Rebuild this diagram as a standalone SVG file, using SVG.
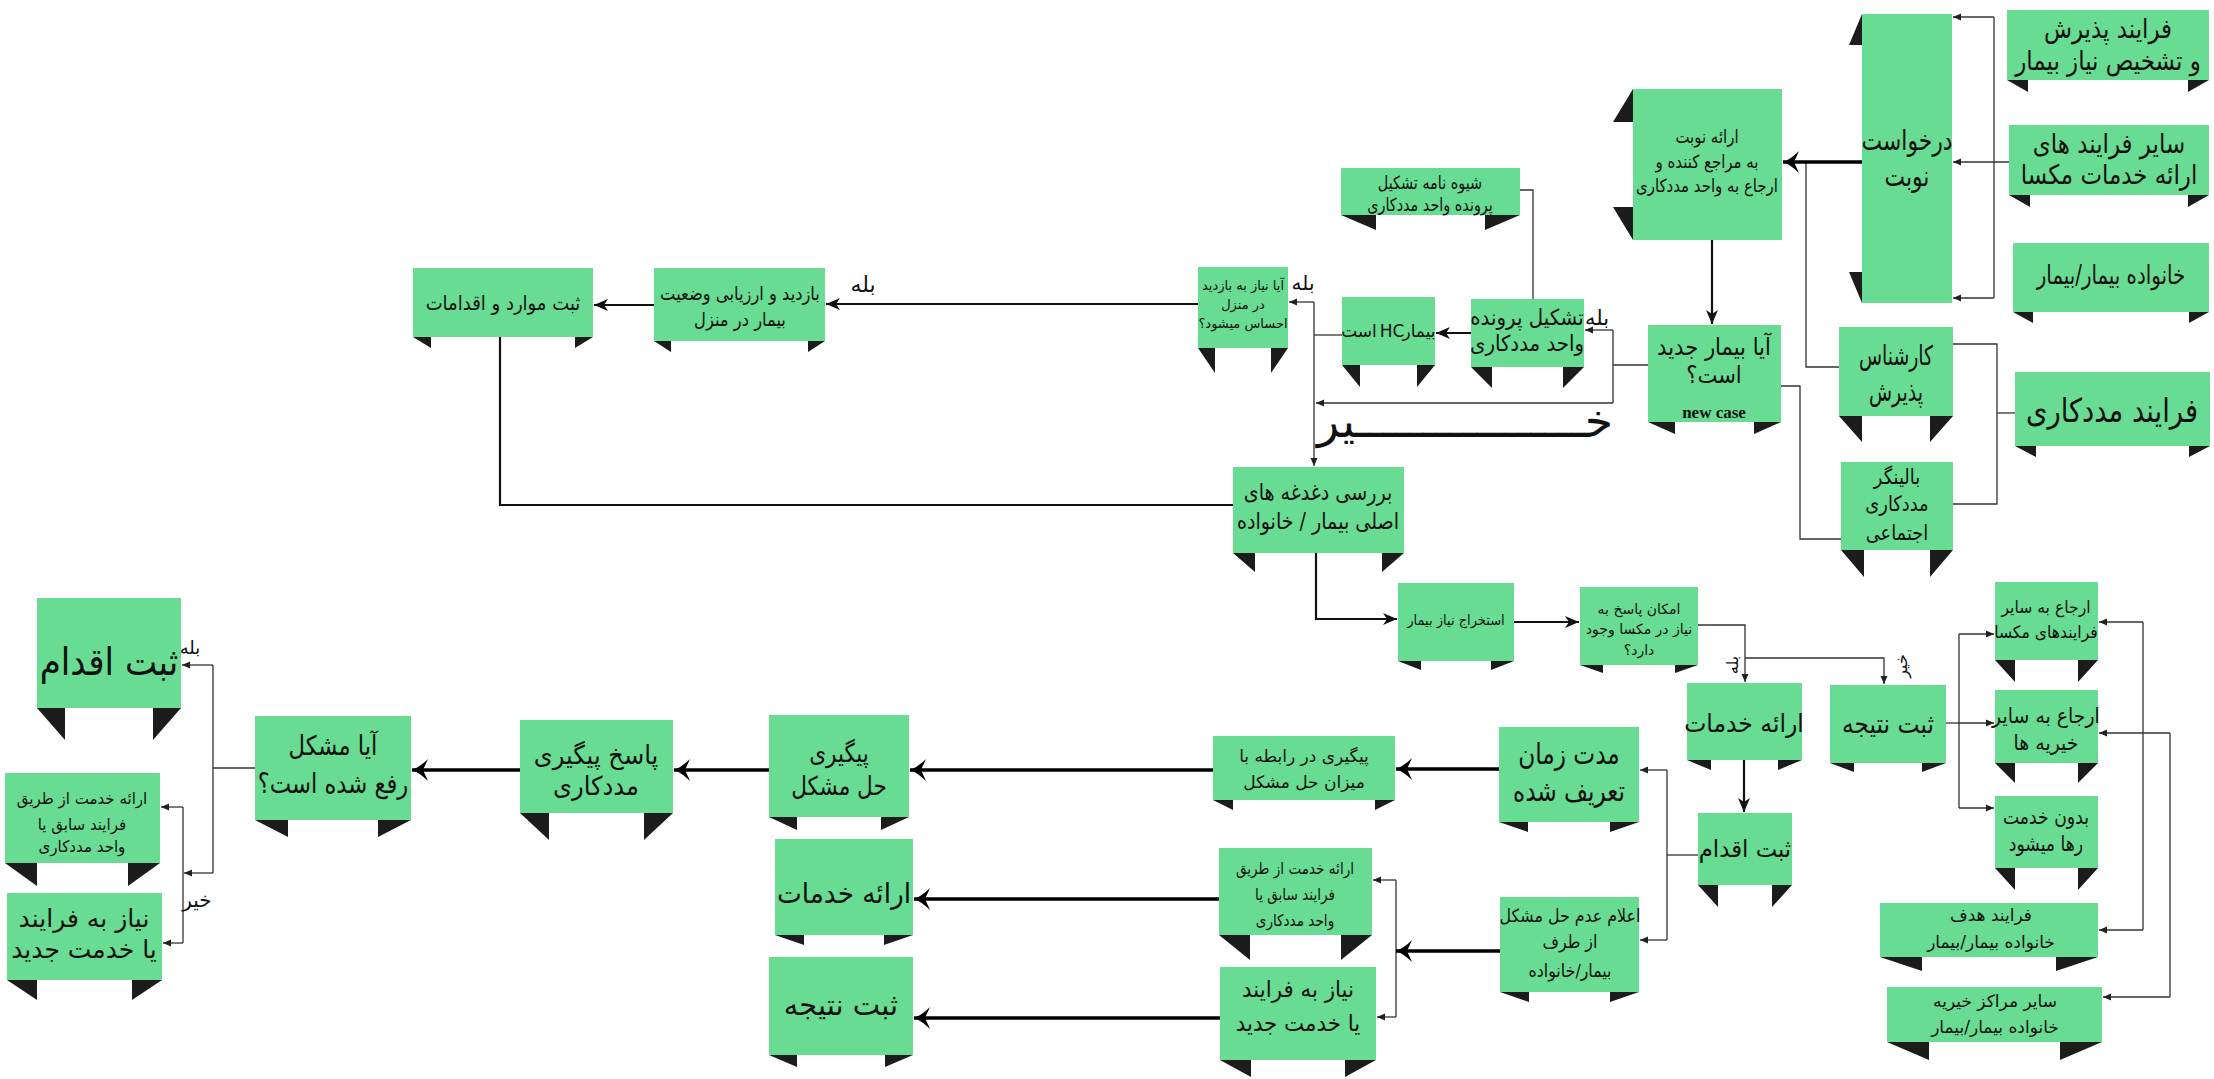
<svg xmlns="http://www.w3.org/2000/svg" width="2214" height="1079" viewBox="0 0 2214 1079">
<style>
.bx{fill:#68dc92}
.tb{fill:#1c1c1c}
.tx{font-family:'DejaVu Sans',sans-serif;fill:#111;text-anchor:middle}
.en{font-family:'Liberation Serif',serif;font-weight:bold;fill:#111;text-anchor:middle}
.l1{fill:none;stroke:#333;stroke-width:1.3}
.l2{fill:none;stroke:#111;stroke-width:2.2}
.l3{fill:none;stroke:#000;stroke-width:3.6}
</style>
<defs>
<marker id="as" viewBox="0 0 8 8" refX="8" refY="4" markerWidth="8" markerHeight="8" markerUnits="userSpaceOnUse" orient="auto"><path d="M0,0.5 L8,4 L0,7.5 z" fill="#222"/></marker>
<marker id="am" viewBox="0 0 14 12" refX="14" refY="6" markerWidth="14" markerHeight="12" markerUnits="userSpaceOnUse" orient="auto"><path d="M0,0 L14,6 L0,12 L4,6 z" fill="#111"/></marker>
<marker id="al" viewBox="0 0 16 22" refX="16" refY="11" markerWidth="16" markerHeight="22" markerUnits="userSpaceOnUse" orient="auto"><path d="M0,0 Q8,8 16,11 Q8,14 0,22 L5,11 z" fill="#000"/></marker>
</defs>
<rect width="2214" height="1079" fill="#fff"/>

<g id="connectors">
<path class="l1" d="M1994,17 V298"/>
<path class="l1" d="M1994,17 H1953" marker-end="url(#as)"/>
<path class="l1" d="M1994,298 H1953" marker-end="url(#as)"/>
<path class="l1" d="M2009,162 H1953" marker-end="url(#as)"/>
<path class="l1" d="M1806,162 V367 H1839"/>
<path class="l1" d="M1781,386 H1800 V539 H1841"/>
<path class="l1" d="M1953,344 H1997 V504 H1953"/>
<path class="l1" d="M2015,413 H1997"/>
<path class="l1" d="M1648,365 H1613"/>
<path class="l1" d="M1613,330 V403"/>
<path class="l1" d="M1613,330 H1585" marker-end="url(#as)"/>
<path class="l1" d="M1613,403 H1316" marker-end="url(#as)"/>
<path class="l1" d="M1520,190 H1533 V299"/>
<path class="l1" d="M1342,335 H1314"/>
<path class="l1" d="M1314,302 V466" marker-end="url(#as)"/>
<path class="l1" d="M1314,302 H1289" marker-end="url(#as)"/>
<path class="l1" d="M1698,625 H1745 V682" marker-end="url(#as)"/>
<path class="l1" d="M1745,658 H1884 V684" marker-end="url(#as)"/>
<path class="l1" d="M1698,855 H1667"/>
<path class="l1" d="M1667,770 V940"/>
<path class="l1" d="M1667,770 H1640" marker-end="url(#as)"/>
<path class="l1" d="M1667,940 H1640" marker-end="url(#as)"/>
<path class="l1" d="M1396,880 V1017"/>
<path class="l1" d="M1396,880 H1373" marker-end="url(#as)"/>
<path class="l1" d="M1396,1017 H1377" marker-end="url(#as)"/>
<path class="l1" d="M255,768 H213"/>
<path class="l1" d="M213,665 V873"/>
<path class="l1" d="M213,665 H182" marker-end="url(#as)"/>
<path class="l1" d="M213,873 H184" marker-end="url(#as)"/>
<path class="l1" d="M183,807 V943"/>
<path class="l1" d="M183,807 H161" marker-end="url(#as)"/>
<path class="l1" d="M183,943 H163" marker-end="url(#as)"/>
<path class="l1" d="M1946,723 H1959"/>
<path class="l1" d="M1959,634 V808"/>
<path class="l1" d="M1959,634 H1994" marker-end="url(#as)"/>
<path class="l1" d="M1959,723 H1994" marker-end="url(#as)"/>
<path class="l1" d="M1959,808 H1994" marker-end="url(#as)"/>
<path class="l1" d="M2143,622 V930"/>
<path class="l1" d="M2143,622 H2099" marker-end="url(#as)"/>
<path class="l1" d="M2143,930 H2099" marker-end="url(#as)"/>
<path class="l1" d="M2170,733 V997"/>
<path class="l1" d="M2170,733 H2099" marker-end="url(#as)"/>
<path class="l1" d="M2170,997 H2103" marker-end="url(#as)"/>

<path class="l2" d="M1471,333 H1436" marker-end="url(#am)"/>
<path class="l2" d="M1198,304 H826" marker-end="url(#am)"/>
<path class="l2" d="M654,305 H594" marker-end="url(#am)"/>
<path class="l2" d="M500,337 V505 H1233"/>
<path class="l2" d="M1316,553 V619 H1397" marker-end="url(#am)"/>
<path class="l2" d="M1514,622 H1579" marker-end="url(#am)"/>
<path class="l2" d="M1744,760 V812" marker-end="url(#am)"/>
<path class="l2" d="M1712,240 V324" marker-end="url(#am)"/>

<path class="l3" d="M1862,162 H1783" marker-end="url(#al)"/>
<path class="l3" d="M1499,769 H1396" marker-end="url(#al)"/>
<path class="l3" d="M1500,951 H1396" marker-end="url(#al)"/>
<path class="l3" d="M1213,770 H910" marker-end="url(#al)"/>
<path class="l3" d="M1219,899 H914" marker-end="url(#al)"/>
<path class="l3" d="M1220,1018 H914" marker-end="url(#al)"/>
<path class="l3" d="M769,770 H674" marker-end="url(#al)"/>
<path class="l3" d="M520,770 H412" marker-end="url(#al)"/>
</g>

<g id="labels" class="tx">
<text x="863" y="292" font-size="22">بله</text>
<text x="1303" y="290" font-size="20">بله</text>
<text x="1597" y="325" font-size="21">بله</text>
<text x="1465" y="437" font-size="46" textLength="296" lengthAdjust="spacingAndGlyphs">خـــــــــــــــــیر</text>
<text transform="translate(1738,665) rotate(-90)" font-size="16">بله</text>
<text transform="translate(1907,666) rotate(-90)" font-size="16">خیر</text>
<text x="190" y="654" font-size="18">بله</text>
<text x="197" y="907" font-size="20">خیر</text>
</g>

<g id="n-paziresh"><rect class="bx" x="2007" y="10" width="202" height="70"/><path class="tb" d="M2007,80h21v12z M2188,80h21l-21,12z"/><text class="tx" font-size="27" transform="matrix(0.85 0 0 1 316.2 0)"><tspan x="2108" y="38">فرایند پذیرش</tspan><tspan x="2108" y="70">و تشخیص نیاز بیمار</tspan></text></g>
<g id="n-sayer-farayand"><rect class="bx" x="2009" y="125" width="200" height="70"/><path class="tb" d="M2009,195h21v12z M2188,195h21l-21,12z"/><text class="tx" font-size="27" transform="matrix(0.85 0 0 1 316.35 0)"><tspan x="2109" y="153">سایر فرایند های</tspan><tspan x="2109" y="184">ارائه خدمات مکسا</tspan></text></g>
<g id="n-khanevade"><rect class="bx" x="2013" y="243" width="196" height="69"/><path class="tb" d="M2013,312h20v11z M2189,312h20l-20,11z"/><text class="tx" font-size="26" x="2111" y="284" transform="matrix(0.76 0 0 1 506.64 0)">خانواده بیمار/بیمار</text></g>
<g id="n-farayand-madadkari"><rect class="bx" x="2015" y="372" width="195" height="74"/><path class="tb" d="M2015,446h21v11z M2189,446h21l-21,11z"/><text class="tx" font-size="33" x="2112" y="422" transform="matrix(0.83 0 0 1 359.04 0)">فرایند مددکاری</text></g>
<g id="n-darkhast"><rect class="bx" x="1862" y="14" width="90" height="289"/><path class="tb" d="M1862,14v31h-13z M1849,272h13v31z"/><text class="tx" font-size="28" transform="matrix(0.78 0 0 1 419.54 0)"><tspan x="1907" y="150">درخواست</tspan><tspan x="1907" y="186">نوبت</tspan></text></g>
<g id="n-eraye-nobat"><rect class="bx" x="1633" y="89" width="149" height="151"/><path class="tb" d="M1633,89v33h-20z M1613,207h20v33z"/><text class="tx" font-size="18" transform="matrix(0.83 0 0 1 290.19 0)"><tspan x="1707" y="143">ارائه نوبت</tspan><tspan x="1707" y="168">به مراجع کننده و</tspan><tspan x="1707" y="192">ارجاع به واحد مددکاری</tspan></text></g>
<g id="n-bimar-jadid"><rect class="bx" x="1648" y="325" width="133" height="97"/><path class="tb" d="M1648,422h27v12z M1754,422h27l-27,12z"/><text class="tx" font-size="24" transform="matrix(0.88 0 0 1 205.68 0)"><tspan x="1714" y="355">آیا بیمار جدید</tspan><tspan x="1714" y="383">است؟</tspan></text><text class="en" x="1714" y="418" font-size="17">new case</text></g>
<g id="n-karshenas"><rect class="bx" x="1839" y="327" width="114" height="89"/><path class="tb" d="M1839,416h23v26z M1930,416h23l-23,26z"/><text class="tx" font-size="27" transform="matrix(0.7 0 0 1 568.8 0)"><tspan x="1896" y="365">کارشناس</tspan><tspan x="1896" y="401">پذیرش</tspan></text></g>
<g id="n-balingar"><rect class="bx" x="1841" y="462" width="112" height="88"/><path class="tb" d="M1841,550h23v27z M1930,550h23l-23,27z"/><text class="tx" font-size="21" transform="matrix(0.85 0 0 1 284.55 0)"><tspan x="1897" y="484">بالینگر</tspan><tspan x="1897" y="511">مددکاری</tspan><tspan x="1897" y="540">اجتماعی</tspan></text></g>
<g id="n-shiveh"><rect class="bx" x="1341" y="168" width="179" height="47"/><path class="tb" d="M1341,215h35v15z M1485,215h35l-35,15z"/><text class="tx" font-size="18" transform="matrix(0.8 0 0 1 286 0)"><tspan x="1430" y="189">شیوه نامه تشکیل</tspan><tspan x="1430" y="211">پرونده واحد مددکاری</tspan></text></g>
<g id="n-tashkil"><rect class="bx" x="1471" y="299" width="113" height="68"/><path class="tb" d="M1471,367h21v21z M1563,367h21l-21,21z"/><text class="tx" font-size="22" transform="matrix(0.9 0 0 1 152.7 0)"><tspan x="1527" y="325">تشکیل پرونده</tspan><tspan x="1527" y="351">واحد مددکاری</tspan></text></g>
<g id="n-hc"><rect class="bx" x="1342" y="297" width="93" height="68"/><path class="tb" d="M1342,365h18v22z M1417,365h18l-18,22z"/><g class="tx" font-size="17"><text x="1359" y="337">است</text><text x="1392" y="337">HC</text><text x="1419" y="337">بیمار</text></g></g>
<g id="n-niaz-bazdid"><rect class="bx" x="1198" y="267" width="90" height="81"/><path class="tb" d="M1198,348h17v25z M1271,348h17l-17,25z"/><text class="tx" font-size="13"><tspan x="1243" y="290">آیا نیاز به بازدید</tspan><tspan x="1243" y="309">در منزل</tspan><tspan x="1243" y="328">احساس میشود؟</tspan></text></g>
<g id="n-bazdid"><rect class="bx" x="654" y="268" width="171" height="73"/><path class="tb" d="M654,341h17v11z M808,341h17l-17,11z"/><text class="tx" font-size="19" transform="matrix(0.86 0 0 1 103.6 0)"><tspan x="740" y="300">بازدید و ارزیابی وضعیت</tspan><tspan x="740" y="326">بیمار در منزل</tspan></text></g>
<g id="n-sabt-mavared"><rect class="bx" x="413" y="268" width="180" height="69"/><path class="tb" d="M413,337h18v11z M575,337h18l-18,11z"/><text class="tx" font-size="20" x="503" y="310" transform="matrix(0.9 0 0 1 50.3 0)">ثبت موارد و اقدامات</text></g>
<g id="n-barresi"><rect class="bx" x="1233" y="467" width="171" height="86"/><path class="tb" d="M1233,553h22v19z M1382,553h22l-22,19z"/><text class="tx" font-size="23" transform="matrix(0.83 0 0 1 224.06 0)"><tspan x="1318" y="500">بررسی دغدغه های</tspan><tspan x="1318" y="529">اصلی بیمار / خانواده</tspan></text></g>
<g id="n-estekhraj"><rect class="bx" x="1398" y="583" width="116" height="78"/><path class="tb" d="M1398,661h23v9z M1491,661h23l-23,9z"/><text class="tx" font-size="14" x="1456" y="625" transform="matrix(0.93 0 0 1 101.92 0)">استخراج نیاز بیمار</text></g>
<g id="n-emkan"><rect class="bx" x="1580" y="587" width="118" height="78"/><path class="tb" d="M1580,665h23v8z M1675,665h23l-23,8z"/><text class="tx" font-size="14"><tspan x="1639" y="614">امکان پاسخ به</tspan><tspan x="1639" y="634">نیاز در مکسا وجود</tspan><tspan x="1639" y="655">دارد؟</tspan></text></g>
<g id="n-eraye-khadamat-1"><rect class="bx" x="1687" y="683" width="115" height="77"/><path class="tb" d="M1687,760h24v10z M1778,760h24l-24,10z"/><text class="tx" font-size="25" x="1744" y="732" transform="matrix(0.94 0 0 1 104.64 0)">ارائه خدمات</text></g>
<g id="n-sabt-natije-1"><rect class="bx" x="1830" y="685" width="116" height="78"/><path class="tb" d="M1830,763h24v9z M1922,763h24l-24,9z"/><text class="tx" font-size="26" x="1888" y="733" transform="matrix(0.9 0 0 1 188.8 0)">ثبت نتیجه</text></g>
<g id="n-sabt-eghdam-1"><rect class="bx" x="1698" y="813" width="94" height="72"/><path class="tb" d="M1698,885h20v22z M1772,885h20l-20,22z"/><text class="tx" font-size="24" x="1745" y="857" transform="matrix(0.95 0 0 1 87.25 0)">ثبت اقدام</text></g>
<g id="n-modat"><rect class="bx" x="1499" y="727" width="140" height="95"/><path class="tb" d="M1499,822h29v10z M1610,822h29l-29,10z"/><text class="tx" font-size="29" transform="matrix(0.8 0 0 1 313.8 0)"><tspan x="1569" y="764">مدت زمان</tspan><tspan x="1569" y="801">تعریف شده</tspan></text></g>
<g id="n-elam"><rect class="bx" x="1500" y="897" width="139" height="95"/><path class="tb" d="M1500,992h29v10z M1610,992h29l-29,10z"/><text class="tx" font-size="18" transform="matrix(0.88 0 0 1 188.4 0)"><tspan x="1570" y="922">اعلام عدم حل مشکل</tspan><tspan x="1570" y="948">از طرف</tspan><tspan x="1570" y="977">بیمار/خانواده</tspan></text></g>
<g id="n-erja-maksa"><rect class="bx" x="1995" y="582" width="103" height="78"/><path class="tb" d="M1995,660h20v22z M2078,660h20l-20,22z"/><text class="tx" font-size="17" transform="matrix(0.92 0 0 1 163.68 0)"><tspan x="2046" y="613">ارجاع به سایر</tspan><tspan x="2046" y="638">فرایندهای مکسا</tspan></text></g>
<g id="n-erja-khayrie"><rect class="bx" x="1995" y="690" width="103" height="73"/><path class="tb" d="M1995,763h20v20z M2078,763h20l-20,20z"/><text class="tx" font-size="21" transform="matrix(0.9 0 0 1 204.6 0)"><tspan x="2046" y="723">ارجاع به سایر</tspan><tspan x="2046" y="750">خیریه ها</tspan></text></g>
<g id="n-bedoon"><rect class="bx" x="1995" y="796" width="103" height="72"/><path class="tb" d="M1995,868h20v22z M2078,868h20l-20,22z"/><text class="tx" font-size="21" transform="matrix(0.82 0 0 1 368.28 0)"><tspan x="2046" y="824">بدون خدمت</tspan><tspan x="2046" y="851">رها میشود</tspan></text></g>
<g id="n-hadaf"><rect class="bx" x="1880" y="903" width="218" height="54"/><path class="tb" d="M1880,957h42v14z M2056,957h42l-42,14z"/><text class="tx" font-size="17"><tspan x="1991" y="921">فرایند هدف</tspan><tspan x="1991" y="948">خانواده بیمار/بیمار</tspan></text></g>
<g id="n-marakez"><rect class="bx" x="1887" y="987" width="215" height="55"/><path class="tb" d="M1887,1042h42v18z M2060,1042h42l-42,18z"/><text class="tx" font-size="17"><tspan x="1995" y="1007">سایر مراکز خیریه</tspan><tspan x="1995" y="1033">خانواده بیمار/بیمار</tspan></text></g>
<g id="n-peygiri-rabete"><rect class="bx" x="1213" y="736" width="182" height="64"/><path class="tb" d="M1213,800h20v10z M1375,800h20l-20,10z"/><text class="tx" font-size="17"><tspan x="1304" y="762">پیگیری در رابطه با</tspan><tspan x="1304" y="788">میزان حل مشکل</tspan></text></g>
<g id="n-tarigh-1"><rect class="bx" x="1219" y="848" width="153" height="87"/><path class="tb" d="M1219,935h31v25z M1341,935h31l-31,25z"/><text class="tx" font-size="16" transform="matrix(0.85 0 0 1 194.25 0)"><tspan x="1295" y="874">ارائه خدمت از طریق</tspan><tspan x="1295" y="900">فرایند سابق یا</tspan><tspan x="1295" y="926">واحد مددکاری</tspan></text></g>
<g id="n-niaz-jadid-1"><rect class="bx" x="1220" y="967" width="156" height="93"/><path class="tb" d="M1220,1060h31v17z M1345,1060h31l-31,17z"/><text class="tx" font-size="23" transform="matrix(0.93 0 0 1 90.86 0)"><tspan x="1298" y="997">نیاز به فرایند</tspan><tspan x="1298" y="1031">یا خدمت جدید</tspan></text></g>
<g id="n-peygiri-hal"><rect class="bx" x="769" y="715" width="140" height="102"/><path class="tb" d="M769,817h28v13z M881,817h28l-28,13z"/><text class="tx" font-size="26" transform="matrix(0.83 0 0 1 142.63 0)"><tspan x="839" y="762">پیگیری</tspan><tspan x="839" y="795">حل مشکل</tspan></text></g>
<g id="n-eraye-khadamat-2"><rect class="bx" x="775" y="839" width="138" height="96"/><path class="tb" d="M775,935h29v10z M884,935h29l-29,10z"/><text class="tx" font-size="28" x="844" y="903" transform="matrix(0.94 0 0 1 50.64 0)">ارائه خدمات</text></g>
<g id="n-sabt-natije-2"><rect class="bx" x="769" y="957" width="144" height="98"/><path class="tb" d="M769,1055h28v12z M885,1055h28l-28,12z"/><text class="tx" font-size="29" x="841" y="1015">ثبت نتیجه</text></g>
<g id="n-pasokh"><rect class="bx" x="520" y="720" width="153" height="93"/><path class="tb" d="M520,813h29v27z M644,813h29l-29,27z"/><text class="tx" font-size="26" transform="matrix(0.93 0 0 1 41.72 0)"><tspan x="596" y="764">پاسخ پیگیری</tspan><tspan x="596" y="795">مددکاری</tspan></text></g>
<g id="n-moshkel"><rect class="bx" x="255" y="716" width="156" height="104"/><path class="tb" d="M255,820h33v17z M378,820h33l-33,17z"/><text class="tx" font-size="27" transform="matrix(0.84 0 0 1 53.28 0)"><tspan x="333" y="755">آیا مشکل</tspan><tspan x="333" y="793">رفع شده است؟</tspan></text></g>
<g id="n-sabt-eghdam-2"><rect class="bx" x="37" y="598" width="144" height="110"/><path class="tb" d="M37,708h28v32z M153,708h28l-28,32z"/><text class="tx" font-size="38" x="109" y="675" transform="matrix(0.9 0 0 1 10.9 0)">ثبت اقدام</text></g>
<g id="n-tarigh-2"><rect class="bx" x="5" y="773" width="155" height="90"/><path class="tb" d="M5,863h32v23z M128,863h32l-32,23z"/><text class="tx" font-size="16" transform="matrix(0.94 0 0 1 4.92 0)"><tspan x="82" y="804">ارائه خدمت از طریق</tspan><tspan x="82" y="830">فرایند سابق یا</tspan><tspan x="82" y="852">واحد مددکاری</tspan></text></g>
<g id="n-niaz-jadid-2"><rect class="bx" x="7" y="893" width="155" height="87"/><path class="tb" d="M7,980h30v20z M132,980h30l-30,20z"/><text class="tx" font-size="25"><tspan x="84" y="927">نیاز به فرایند</tspan><tspan x="84" y="958">یا خدمت جدید</tspan></text></g>
</svg>
